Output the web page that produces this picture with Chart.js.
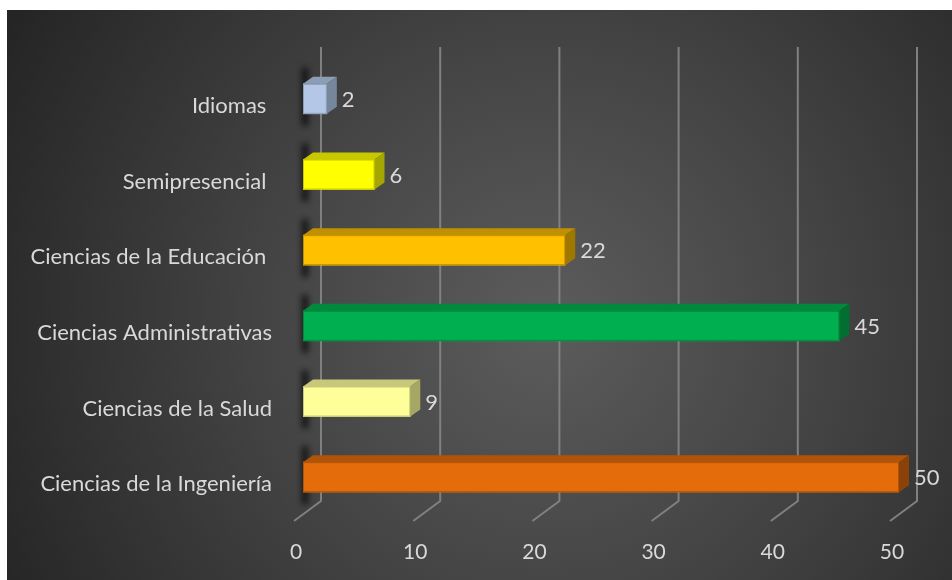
<!DOCTYPE html>
<html><head><meta charset="utf-8">
<script src="https://cdn.jsdelivr.net/npm/chart.js@4.4.0/dist/chart.umd.min.js"></script>
<style>
html,body{margin:0;padding:0;background:#fff;width:952px;height:580px;overflow:hidden}
#wrap{position:absolute;left:7px;top:10px;width:945px;height:570px;background:radial-gradient(circle farthest-corner at 57% 55%, #5c5c5c 0%, #444 45%, #242424 100%)}
canvas{display:block}
</style></head><body><div id="wrap"><canvas id="c" width="945" height="570"></canvas></div>
<script>
const categories = ['Idiomas ', 'Semipresencial ', 'Ciencias de la Educación ', 'Ciencias Administrativas', 'Ciencias de la Salud', 'Ciencias de la Ingeniería'];
const values = [2, 6, 22, 45, 9, 50];
const frontColors = ['#b4c7e7', '#ffff00', '#ffc000', '#00b050', '#ffff99', '#e46c0a'];
const topColors = ['#8c9eb5', '#c8c800', '#c09000', '#008a3c', '#c8c87a', '#b0540a'];
const sideColors = ['#76869b', '#a6a600', '#a07800', '#006f30', '#a6a665', '#8a4208'];
const tickValues = [0, 10, 20, 30, 40, 50];

const textColor = '#d9d9d9';
const fontFamily = 'Lato, "Open Sans", sans-serif';
const DX = 10, DY = 7;           // bar depth
const BACK_DX = 18, BACK_DY = 14; // back wall offset
const FRONT_DX = 9, FRONT_DY = 6; // front floor offset

const threeD = {
  id: 'threeD',
  beforeDatasetsDraw(chart) {
    const ctx = chart.ctx, xs = chart.scales.x, a = chart.chartArea;
    ctx.save();
    ctx.strokeStyle = '#808080';
    ctx.lineWidth = 2;
    tickValues.forEach(v => {
      const px = xs.getPixelForValue(v);
      ctx.beginPath();
      ctx.moveTo(px + BACK_DX, a.top - BACK_DY);
      ctx.lineTo(px + BACK_DX, a.bottom - BACK_DY);
      ctx.lineTo(px - FRONT_DX, a.bottom + FRONT_DY);
      ctx.stroke();
    });
    // soft shadows on the left wall
    const meta = chart.getDatasetMeta(0);
    ctx.filter = 'blur(3px)';
    ctx.fillStyle = 'rgba(0,0,0,0.75)';
    meta.data.forEach(b => {
      const h = b.height;
      ctx.fillRect(b.base - 1, b.y - h / 2 - 16, 6, h + 28);
    });
    ctx.restore();
  },
  afterDatasetsDraw(chart) {
    const ctx = chart.ctx;
    const meta = chart.getDatasetMeta(0);
    ctx.save();
    meta.data.forEach((b, i) => {
      const h = b.height, t = b.y - h / 2, btm = b.y + h / 2, x0 = b.base, x1 = b.x;
      ctx.strokeStyle = topColors[i];
      ctx.lineWidth = 1;
      ctx.strokeRect(x0 + 0.5, t + 0.5, x1 - x0 - 1, h - 1);
      ctx.fillStyle = topColors[i];
      ctx.beginPath();
      ctx.moveTo(x0, t); ctx.lineTo(x1, t); ctx.lineTo(x1 + DX, t - DY); ctx.lineTo(x0 + DX, t - DY);
      ctx.closePath(); ctx.fill();
      ctx.fillStyle = sideColors[i];
      ctx.beginPath();
      ctx.moveTo(x1, t); ctx.lineTo(x1 + DX, t - DY); ctx.lineTo(x1 + DX, btm - DY); ctx.lineTo(x1, btm);
      ctx.closePath(); ctx.fill();
      ctx.fillStyle = textColor;
      ctx.font = '22px ' + fontFamily;
      ctx.textAlign = 'left';
      ctx.textBaseline = 'middle';
      ctx.fillText(String(values[i]), x1 + DX + 5, b.y + 1);
    });
    ctx.restore();
  }
};

new Chart(document.getElementById('c'), {
  type: 'bar',
  data: {
    labels: categories,
    datasets: [{
      data: values,
      backgroundColor: frontColors,
      borderWidth: 0,
      barThickness: 30
    }]
  },
  options: {
    indexAxis: 'y',
    responsive: false,
    animation: false,
    layout: { padding: { top: 51, right: 53, bottom: 16, left: 0 } },
    plugins: { legend: { display: false }, tooltip: { enabled: false } },
    scales: {
      x: {
        min: 0, max: 50,
        afterBuildTicks(s) { s.ticks = tickValues.map(v => ({ value: v })); },
        afterFit(s) { s.height = 49; },
        ticks: { color: textColor, font: { family: fontFamily, size: 21 }, labelOffset: -7, padding: 25 },
        grid: { display: false, drawTicks: false },
        border: { display: false }
      },
      y: {
        afterFit(s) { s.width = 296; },
        ticks: { color: textColor, font: { family: fontFamily, size: 22 }, labelOffset: 7, padding: 31 },
        grid: { display: false, drawTicks: false },
        border: { display: false }
      }
    }
  },
  plugins: [threeD]
});
</script>
</body></html>
